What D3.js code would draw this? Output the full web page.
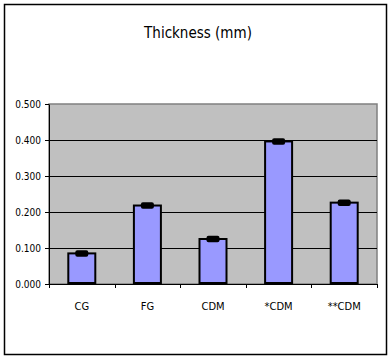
<!DOCTYPE html>
<html>
<head>
<meta charset="utf-8">
<script src="https://cdn.jsdelivr.net/npm/d3@7"></script>
<style>
  body { margin: 0; background: #fff; }
  text { font-family: "Liberation Sans Narrow", "DejaVu Sans Condensed", "Liberation Sans", sans-serif; font-stretch: condensed; fill: #000; }
</style>
</head>
<body>
<svg id="chart" width="389" height="356"></svg>
<script>
var categories = ["CG", "FG", "CDM", "*CDM", "**CDM"];
var thickness = [0.085, 0.218, 0.125, 0.396, 0.226];
var errors = [0.009, 0.009, 0.009, 0.009, 0.009];
var yTicks = [0, 0.1, 0.2, 0.3, 0.4, 0.5];

var svg = d3.select("svg#chart");

// outer frame
svg.append("rect")
    .attr("x", 4.5).attr("y", 4.5)
    .attr("width", 382).attr("height", 350)
    .attr("fill", "#fff").attr("stroke", "#000").attr("stroke-width", 1.5);

var pLeft = 49, pRight = 377, pTop = 104, pBottom = 284;

var x = d3.scaleBand()
    .domain(categories)
    .range([pLeft, pRight])
    .paddingInner(0).paddingOuter(0);

var y = d3.scaleLinear()
    .domain([0, 0.5])
    .range([pBottom, pTop]);

// plot area
svg.append("rect")
    .attr("x", pLeft).attr("y", pTop)
    .attr("width", pRight - pLeft).attr("height", pBottom - pTop)
    .attr("fill", "#c0c0c0").attr("stroke", "#808080").attr("stroke-width", 1.5);

// gridlines
svg.selectAll(".grid")
  .data(yTicks.filter(function(d) {return d > 0 && d < 0.5;}))
  .enter()
  .append("line")
  .attr("class", "grid")
  .attr("x1", pLeft).attr("x2", pRight)
  .attr("y1", function(d) {return Math.round(y(d)) + 0.5;})
  .attr("y2", function(d) {return Math.round(y(d)) + 0.5;})
  .attr("stroke", "#000").attr("stroke-width", 1);

// y axis
var yAxis = d3.axisLeft(y)
    .tickValues(yTicks)
    .tickFormat(d3.format(".3f"))
    .tickSize(4)
    .tickSizeOuter(0);

var gy = svg.append("g")
    .attr("transform", "translate(" + pLeft + ",0)")
    .call(yAxis);
gy.selectAll("text").style("font-size", "10px").attr("dx", "-1");
gy.selectAll("line, path").attr("stroke", "#000");

// x axis
var xAxis = d3.axisBottom(x).tickSize(0).tickSizeOuter(0);
var gx = svg.append("g")
    .attr("transform", "translate(0," + pBottom + ")")
    .call(xAxis);
gx.selectAll("text").style("font-size", "11px").attr("dy", "2.1em");
gx.selectAll("path").attr("stroke", "#000");

// x boundary ticks
var bounds = categories.map(function(c) {return x(c);}).concat([x(categories[categories.length - 1]) + x.bandwidth()]);
svg.selectAll(".xtick")
  .data(bounds)
  .enter()
  .append("line")
  .attr("x1", function(d) {return Math.round(d) + 0.5;})
  .attr("x2", function(d) {return Math.round(d) + 0.5;})
  .attr("y1", pBottom).attr("y2", pBottom + 4)
  .attr("stroke", "#000");

// bars
var barW = 27;
svg.selectAll(".bar")
  .data(thickness)
  .enter()
  .append("rect")
  .attr("class", "bar")
  .attr("x", function(d, i) {return x(categories[i]) + x.bandwidth() / 2 - barW / 2;})
  .attr("y", function(d) {return y(d);})
  .attr("width", barW)
  .attr("height", function(d) {return y(0) - y(d);})
  .attr("fill", "#9999ff")
  .attr("stroke", "#000")
  .attr("stroke-width", 2);

// bar base
svg.selectAll(".base")
  .data(thickness)
  .enter()
  .append("line")
  .attr("x1", function(d, i) {return x(categories[i]) + x.bandwidth() / 2 - barW / 2;})
  .attr("x2", function(d, i) {return x(categories[i]) + x.bandwidth() / 2 + barW / 2;})
  .attr("y1", pBottom - 1).attr("y2", pBottom - 1)
  .attr("stroke", "#000").attr("stroke-width", 2);

// error bars
svg.selectAll(".err")
  .data(thickness)
  .enter()
  .append("rect")
  .attr("class", "err")
  .attr("x", function(d, i) {return x(categories[i]) + x.bandwidth() / 2 - 6.5;})
  .attr("y", function(d, i) {return y(d + errors[i]);})
  .attr("width", 13)
  .attr("height", function(d, i) {return y(d - errors[i]) - y(d + errors[i]);})
  .attr("rx", 2)
  .attr("fill", "#000");

// title
svg.append("text")
    .attr("x", 198).attr("y", 38)
    .attr("text-anchor", "middle")
    .style("font-size", "15px")
    .text("Thickness (mm)");
</script>
</body>
</html>
